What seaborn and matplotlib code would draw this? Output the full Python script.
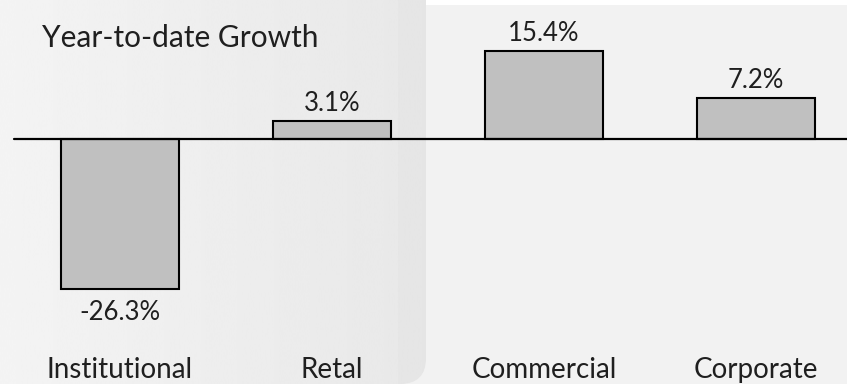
import numpy as np
import pandas as pd
import seaborn as sns
import matplotlib.pyplot as plt
from matplotlib.patches import FancyBboxPatch, Rectangle

# Data
categories = ["Institutional", "Retal", "Commercial", "Corporate"]
growth = [-26.3, 3.1, 15.4, 7.2]
value_labels = ["-26.3%", "3.1%", "15.4%", "7.2%"]
title = "Year-to-date Growth"

df = pd.DataFrame({"segment": categories, "growth": growth})

sns.set_theme(style="white")
plt.rcParams["font.family"] = ["Lato", "DejaVu Sans"]

W, H, DPI = 847, 384, 100
fig = plt.figure(figsize=(W / DPI, H / DPI), dpi=DPI)
fig.patch.set_facecolor("#f2f2f2")

# Background decoration in figure pixel space
bg = fig.add_axes([0, 0, 1, 1], zorder=0)
bg.set_xlim(0, W)
bg.set_ylim(H, 0)
bg.axis("off")
bg.add_patch(Rectangle((426, 0), W - 426, 5, facecolor="white", edgecolor="none"))
grad = np.linspace(0.955, 0.91, 256)[None, :]
img = bg.imshow(grad, extent=(0, 426, 420, -10), cmap="gray", vmin=0, vmax=1,
                aspect="auto", interpolation="bicubic")
panel = FancyBboxPatch((-40, -40), 466, 424, boxstyle="round,pad=0,rounding_size=26",
                       facecolor="none", edgecolor="none")
bg.add_patch(panel)
img.set_clip_path(panel)
stripe = Rectangle((398, -10), 28, 420, facecolor="#000000", alpha=0.012, edgecolor="none")
bg.add_patch(stripe)
stripe.set_clip_path(panel)

# Chart axes spanning the figure; limits place bars on a 212 px pitch
ax = fig.add_axes([0, 0, 1, 1], zorder=1)
ax.patch.set_alpha(0)
sns.barplot(data=df, x="segment", y="growth", color="#c0c0c0", saturation=1,
            edgecolor="black", linewidth=1.5, width=0.557, ax=ax)
ppu = 5.7
ax.set_xlim((0 - 120) / 212, (W - 120) / 212)
ax.set_ylim(-(H - 139) / ppu, 139 / ppu)
ax.axhline(0, xmin=14 / W, xmax=1, color="black", linewidth=1.6, zorder=3)

# Value labels above positive bars, below negative ones
for bar, lab, v in zip(ax.patches, value_labels, growth):
    x = bar.get_x() + bar.get_width() / 2
    ax.annotate(lab, (x, v), xytext=(0, 3.5 if v >= 0 else -8),
                textcoords="offset points", ha="center",
                va="bottom" if v >= 0 else "top",
                fontsize=18.5, color="#1f1f1f")

for i, c in enumerate(categories):
    ax.text(i, -(370 - 139) / ppu, c, ha="center", va="center",
            fontsize=20, color="#1f1f1f")

ax.text(42 / W, 1 - 38 / H, title, transform=ax.transAxes, ha="left",
        va="center", fontsize=21.5, color="#1f1f1f")

ax.set_xlabel("")
ax.set_ylabel("")
ax.set_xticks([])
ax.set_yticks([])
sns.despine(ax=ax, left=True, bottom=True)

fig.savefig("out.png", dpi=DPI, facecolor=fig.get_facecolor())
